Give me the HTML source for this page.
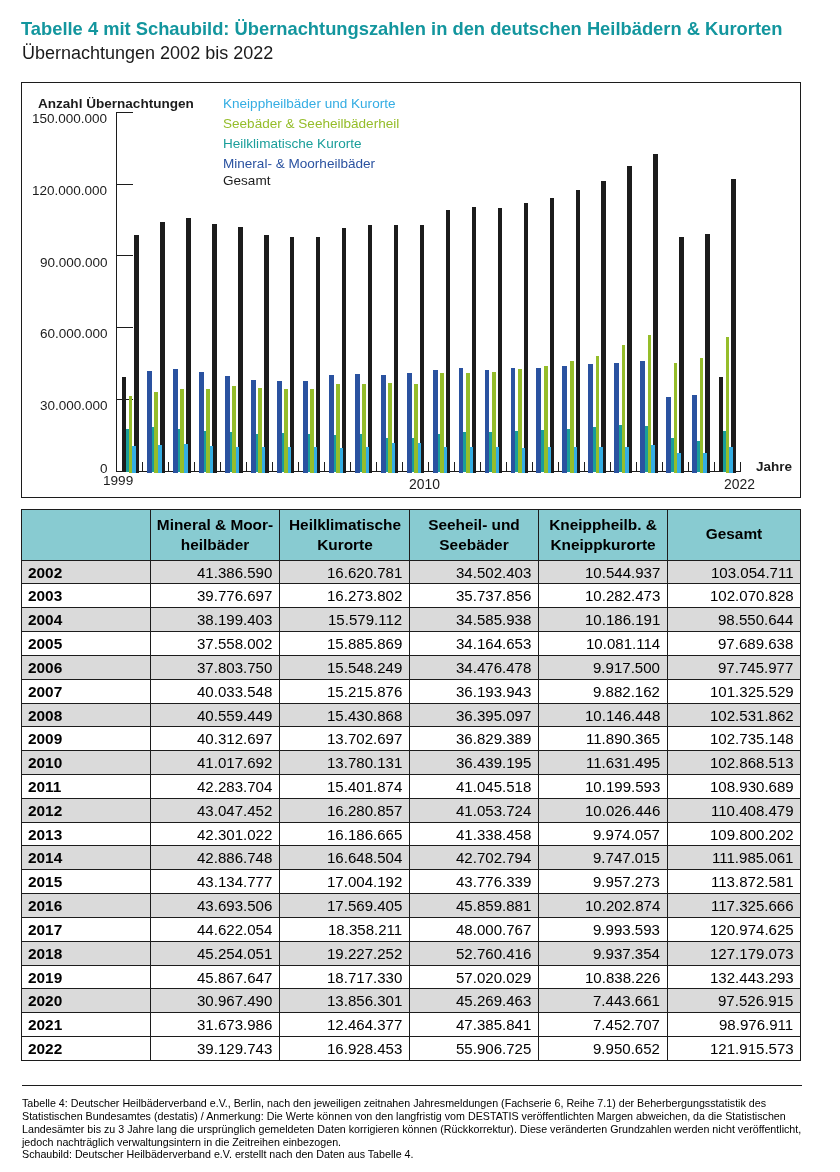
<!DOCTYPE html>
<html><head><meta charset="utf-8"><style>
html,body{margin:0;padding:0;background:#fff;width:840px;height:1172px;overflow:hidden;}
body{position:relative;font-family:"Liberation Sans", sans-serif;}
.abs{position:absolute;left:0;top:0;}
.t{position:absolute;white-space:nowrap;will-change:transform;}
</style></head><body>
<div class="abs" style="left:21px;top:509px;width:780px;height:52px;background:#88cbd1"></div><div class="abs" style="left:21px;top:560px;width:780px;height:23px;background:#dadada"></div><div class="abs" style="left:21px;top:607px;width:780px;height:24px;background:#dadada"></div><div class="abs" style="left:21px;top:655px;width:780px;height:24px;background:#dadada"></div><div class="abs" style="left:21px;top:703px;width:780px;height:23px;background:#dadada"></div><div class="abs" style="left:21px;top:750px;width:780px;height:24px;background:#dadada"></div><div class="abs" style="left:21px;top:798px;width:780px;height:24px;background:#dadada"></div><div class="abs" style="left:21px;top:845px;width:780px;height:24px;background:#dadada"></div><div class="abs" style="left:21px;top:893px;width:780px;height:24px;background:#dadada"></div><div class="abs" style="left:21px;top:941px;width:780px;height:24px;background:#dadada"></div><div class="abs" style="left:21px;top:988px;width:780px;height:24px;background:#dadada"></div><div class="abs" style="left:21px;top:509px;width:780px;height:1px;background:#1c1c1c"></div><div class="abs" style="left:21px;top:560px;width:780px;height:1px;background:#1c1c1c"></div><div class="abs" style="left:21px;top:583px;width:780px;height:1px;background:#1c1c1c"></div><div class="abs" style="left:21px;top:607px;width:780px;height:1px;background:#1c1c1c"></div><div class="abs" style="left:21px;top:631px;width:780px;height:1px;background:#1c1c1c"></div><div class="abs" style="left:21px;top:655px;width:780px;height:1px;background:#1c1c1c"></div><div class="abs" style="left:21px;top:679px;width:780px;height:1px;background:#1c1c1c"></div><div class="abs" style="left:21px;top:703px;width:780px;height:1px;background:#1c1c1c"></div><div class="abs" style="left:21px;top:726px;width:780px;height:1px;background:#1c1c1c"></div><div class="abs" style="left:21px;top:750px;width:780px;height:1px;background:#1c1c1c"></div><div class="abs" style="left:21px;top:774px;width:780px;height:1px;background:#1c1c1c"></div><div class="abs" style="left:21px;top:798px;width:780px;height:1px;background:#1c1c1c"></div><div class="abs" style="left:21px;top:822px;width:780px;height:1px;background:#1c1c1c"></div><div class="abs" style="left:21px;top:845px;width:780px;height:1px;background:#1c1c1c"></div><div class="abs" style="left:21px;top:869px;width:780px;height:1px;background:#1c1c1c"></div><div class="abs" style="left:21px;top:893px;width:780px;height:1px;background:#1c1c1c"></div><div class="abs" style="left:21px;top:917px;width:780px;height:1px;background:#1c1c1c"></div><div class="abs" style="left:21px;top:941px;width:780px;height:1px;background:#1c1c1c"></div><div class="abs" style="left:21px;top:965px;width:780px;height:1px;background:#1c1c1c"></div><div class="abs" style="left:21px;top:988px;width:780px;height:1px;background:#1c1c1c"></div><div class="abs" style="left:21px;top:1012px;width:780px;height:1px;background:#1c1c1c"></div><div class="abs" style="left:21px;top:1036px;width:780px;height:1px;background:#1c1c1c"></div><div class="abs" style="left:21px;top:1060px;width:780px;height:1px;background:#1c1c1c"></div><div class="abs" style="left:21px;top:509px;width:1px;height:552px;background:#1c1c1c"></div><div class="abs" style="left:150px;top:509px;width:1px;height:552px;background:#1c1c1c"></div><div class="abs" style="left:279px;top:509px;width:1px;height:552px;background:#1c1c1c"></div><div class="abs" style="left:409px;top:509px;width:1px;height:552px;background:#1c1c1c"></div><div class="abs" style="left:538px;top:509px;width:1px;height:552px;background:#1c1c1c"></div><div class="abs" style="left:667px;top:509px;width:1px;height:552px;background:#1c1c1c"></div><div class="abs" style="left:800px;top:509px;width:1px;height:552px;background:#1c1c1c"></div><svg class="abs" width="840" height="1172" shape-rendering="crispEdges"><rect x="21.5" y="82.5" width="779" height="415" fill="none" stroke="#1c1c1c" stroke-width="1"/><line x1="116.5" y1="111.5" x2="116.5" y2="471.5" stroke="#1c1c1c" stroke-width="1"/><line x1="116" y1="471.5" x2="741" y2="471.5" stroke="#1c1c1c" stroke-width="1"/><line x1="116" y1="399.5" x2="133" y2="399.5" stroke="#1c1c1c" stroke-width="1"/><line x1="116" y1="327.5" x2="133" y2="327.5" stroke="#1c1c1c" stroke-width="1"/><line x1="116" y1="255.5" x2="133" y2="255.5" stroke="#1c1c1c" stroke-width="1"/><line x1="116" y1="184.5" x2="133" y2="184.5" stroke="#1c1c1c" stroke-width="1"/><line x1="116" y1="112.5" x2="133" y2="112.5" stroke="#1c1c1c" stroke-width="1"/><line x1="142.5" y1="462" x2="142.5" y2="471.5" stroke="#1c1c1c" stroke-width="1"/><line x1="168.5" y1="462" x2="168.5" y2="471.5" stroke="#1c1c1c" stroke-width="1"/><line x1="194.5" y1="462" x2="194.5" y2="471.5" stroke="#1c1c1c" stroke-width="1"/><line x1="220.5" y1="462" x2="220.5" y2="471.5" stroke="#1c1c1c" stroke-width="1"/><line x1="246.5" y1="462" x2="246.5" y2="471.5" stroke="#1c1c1c" stroke-width="1"/><line x1="272.5" y1="462" x2="272.5" y2="471.5" stroke="#1c1c1c" stroke-width="1"/><line x1="298.5" y1="462" x2="298.5" y2="471.5" stroke="#1c1c1c" stroke-width="1"/><line x1="324.5" y1="462" x2="324.5" y2="471.5" stroke="#1c1c1c" stroke-width="1"/><line x1="350.5" y1="462" x2="350.5" y2="471.5" stroke="#1c1c1c" stroke-width="1"/><line x1="376.5" y1="462" x2="376.5" y2="471.5" stroke="#1c1c1c" stroke-width="1"/><line x1="402.5" y1="462" x2="402.5" y2="471.5" stroke="#1c1c1c" stroke-width="1"/><line x1="428.5" y1="462" x2="428.5" y2="471.5" stroke="#1c1c1c" stroke-width="1"/><line x1="454.5" y1="462" x2="454.5" y2="471.5" stroke="#1c1c1c" stroke-width="1"/><line x1="480.5" y1="462" x2="480.5" y2="471.5" stroke="#1c1c1c" stroke-width="1"/><line x1="506.5" y1="462" x2="506.5" y2="471.5" stroke="#1c1c1c" stroke-width="1"/><line x1="532.5" y1="462" x2="532.5" y2="471.5" stroke="#1c1c1c" stroke-width="1"/><line x1="558.5" y1="462" x2="558.5" y2="471.5" stroke="#1c1c1c" stroke-width="1"/><line x1="584.5" y1="462" x2="584.5" y2="471.5" stroke="#1c1c1c" stroke-width="1"/><line x1="610.5" y1="462" x2="610.5" y2="471.5" stroke="#1c1c1c" stroke-width="1"/><line x1="636.5" y1="462" x2="636.5" y2="471.5" stroke="#1c1c1c" stroke-width="1"/><line x1="662.5" y1="462" x2="662.5" y2="471.5" stroke="#1c1c1c" stroke-width="1"/><line x1="688.5" y1="462" x2="688.5" y2="471.5" stroke="#1c1c1c" stroke-width="1"/><line x1="714.5" y1="462" x2="714.5" y2="471.5" stroke="#1c1c1c" stroke-width="1"/><line x1="740.5" y1="462" x2="740.5" y2="471.5" stroke="#1c1c1c" stroke-width="1"/><rect x="121.90" y="377.00" width="4.10" height="95.00" fill="#1c1c1c"/><rect x="126.00" y="429.01" width="3.00" height="42.99" fill="#1a9e9a"/><rect x="128.50" y="395.93" width="3.70" height="77.07" fill="#95bd2a"/><rect x="134.20" y="235.10" width="4.50" height="237.90" fill="#1c1c1c"/><rect x="132.20" y="446.03" width="3.40" height="26.97" fill="#34ade3"/><rect x="147.06" y="371.01" width="4.90" height="101.99" fill="#2a52a0"/><rect x="151.96" y="427.10" width="3.00" height="44.90" fill="#1a9e9a"/><rect x="154.46" y="391.86" width="3.70" height="81.14" fill="#95bd2a"/><rect x="160.16" y="221.91" width="4.50" height="251.09" fill="#1c1c1c"/><rect x="158.16" y="445.07" width="3.40" height="27.93" fill="#34ade3"/><rect x="173.02" y="369.09" width="4.90" height="103.91" fill="#2a52a0"/><rect x="177.92" y="429.01" width="3.00" height="42.99" fill="#1a9e9a"/><rect x="180.42" y="388.98" width="3.70" height="84.02" fill="#95bd2a"/><rect x="186.12" y="217.84" width="4.50" height="255.16" fill="#1c1c1c"/><rect x="184.12" y="443.87" width="3.40" height="29.13" fill="#34ade3"/><rect x="198.98" y="372.00" width="4.90" height="101.00" fill="#2a52a0"/><rect x="203.88" y="431.36" width="3.00" height="40.64" fill="#1a9e9a"/><rect x="206.38" y="388.50" width="3.70" height="84.50" fill="#95bd2a"/><rect x="212.08" y="224.18" width="4.50" height="248.82" fill="#1c1c1c"/><rect x="210.08" y="445.92" width="3.40" height="27.08" fill="#34ade3"/><rect x="224.94" y="375.86" width="4.90" height="97.14" fill="#2a52a0"/><rect x="229.84" y="432.19" width="3.00" height="39.81" fill="#1a9e9a"/><rect x="232.34" y="385.54" width="3.70" height="87.46" fill="#95bd2a"/><rect x="238.04" y="226.54" width="4.50" height="246.46" fill="#1c1c1c"/><rect x="236.04" y="446.55" width="3.40" height="26.45" fill="#34ade3"/><rect x="250.90" y="379.64" width="4.90" height="93.36" fill="#2a52a0"/><rect x="255.80" y="433.86" width="3.00" height="38.14" fill="#1a9e9a"/><rect x="258.30" y="388.30" width="3.70" height="84.70" fill="#95bd2a"/><rect x="264.00" y="234.97" width="4.50" height="238.03" fill="#1c1c1c"/><rect x="262.00" y="446.78" width="3.40" height="26.22" fill="#34ade3"/><rect x="276.86" y="381.17" width="4.90" height="91.83" fill="#2a52a0"/><rect x="281.76" y="433.12" width="3.00" height="38.88" fill="#1a9e9a"/><rect x="284.26" y="389.31" width="3.70" height="83.69" fill="#95bd2a"/><rect x="289.96" y="237.04" width="4.50" height="235.96" fill="#1c1c1c"/><rect x="287.96" y="447.04" width="3.40" height="25.96" fill="#34ade3"/><rect x="302.82" y="380.58" width="4.90" height="92.42" fill="#2a52a0"/><rect x="307.72" y="433.93" width="3.00" height="38.07" fill="#1a9e9a"/><rect x="310.22" y="388.56" width="3.70" height="84.44" fill="#95bd2a"/><rect x="315.92" y="236.90" width="4.50" height="236.10" fill="#1c1c1c"/><rect x="313.92" y="447.43" width="3.40" height="25.57" fill="#34ade3"/><rect x="328.78" y="375.24" width="4.90" height="97.76" fill="#2a52a0"/><rect x="333.68" y="434.73" width="3.00" height="37.27" fill="#1a9e9a"/><rect x="336.18" y="384.44" width="3.70" height="88.56" fill="#95bd2a"/><rect x="341.88" y="228.32" width="4.50" height="244.68" fill="#1c1c1c"/><rect x="339.88" y="447.51" width="3.40" height="25.49" fill="#34ade3"/><rect x="354.74" y="373.98" width="4.90" height="99.02" fill="#2a52a0"/><rect x="359.64" y="434.21" width="3.00" height="37.79" fill="#1a9e9a"/><rect x="362.14" y="383.96" width="3.70" height="89.04" fill="#95bd2a"/><rect x="367.84" y="225.43" width="4.50" height="247.57" fill="#1c1c1c"/><rect x="365.84" y="446.88" width="3.40" height="26.12" fill="#34ade3"/><rect x="380.70" y="374.57" width="4.90" height="98.43" fill="#2a52a0"/><rect x="385.60" y="438.35" width="3.00" height="33.65" fill="#1a9e9a"/><rect x="388.10" y="382.92" width="3.70" height="90.08" fill="#95bd2a"/><rect x="393.80" y="224.94" width="4.50" height="248.06" fill="#1c1c1c"/><rect x="391.80" y="442.70" width="3.40" height="30.30" fill="#34ade3"/><rect x="406.66" y="372.88" width="4.90" height="100.12" fill="#2a52a0"/><rect x="411.56" y="438.17" width="3.00" height="33.83" fill="#1a9e9a"/><rect x="414.06" y="383.86" width="3.70" height="89.14" fill="#95bd2a"/><rect x="419.76" y="224.62" width="4.50" height="248.38" fill="#1c1c1c"/><rect x="417.76" y="443.32" width="3.40" height="29.68" fill="#34ade3"/><rect x="432.62" y="369.85" width="4.90" height="103.15" fill="#2a52a0"/><rect x="437.52" y="434.28" width="3.00" height="37.72" fill="#1a9e9a"/><rect x="440.02" y="372.81" width="3.70" height="100.19" fill="#95bd2a"/><rect x="445.72" y="210.09" width="4.50" height="262.91" fill="#1c1c1c"/><rect x="443.72" y="446.75" width="3.40" height="26.25" fill="#34ade3"/><rect x="458.58" y="368.02" width="4.90" height="104.98" fill="#2a52a0"/><rect x="463.48" y="432.17" width="3.00" height="39.83" fill="#1a9e9a"/><rect x="465.98" y="372.79" width="3.70" height="100.21" fill="#95bd2a"/><rect x="471.68" y="206.55" width="4.50" height="266.45" fill="#1c1c1c"/><rect x="469.68" y="447.17" width="3.40" height="25.83" fill="#34ade3"/><rect x="484.54" y="369.80" width="4.90" height="103.20" fill="#2a52a0"/><rect x="489.44" y="432.40" width="3.00" height="39.60" fill="#1a9e9a"/><rect x="491.94" y="372.11" width="3.70" height="100.89" fill="#95bd2a"/><rect x="497.64" y="208.01" width="4.50" height="264.99" fill="#1c1c1c"/><rect x="495.64" y="447.29" width="3.40" height="25.71" fill="#34ade3"/><rect x="510.50" y="368.40" width="4.90" height="104.60" fill="#2a52a0"/><rect x="515.40" y="431.29" width="3.00" height="40.71" fill="#1a9e9a"/><rect x="517.90" y="368.84" width="3.70" height="104.16" fill="#95bd2a"/><rect x="523.60" y="202.77" width="4.50" height="270.23" fill="#1c1c1c"/><rect x="521.60" y="447.84" width="3.40" height="25.16" fill="#34ade3"/><rect x="536.46" y="367.81" width="4.90" height="105.19" fill="#2a52a0"/><rect x="541.36" y="430.44" width="3.00" height="41.56" fill="#1a9e9a"/><rect x="543.86" y="366.27" width="3.70" height="106.73" fill="#95bd2a"/><rect x="549.56" y="198.25" width="4.50" height="274.75" fill="#1c1c1c"/><rect x="547.56" y="447.33" width="3.40" height="25.67" fill="#34ade3"/><rect x="562.42" y="366.47" width="4.90" height="106.53" fill="#2a52a0"/><rect x="567.32" y="429.09" width="3.00" height="42.91" fill="#1a9e9a"/><rect x="569.82" y="361.27" width="3.70" height="111.73" fill="#95bd2a"/><rect x="575.52" y="189.97" width="4.50" height="283.03" fill="#1c1c1c"/><rect x="573.52" y="446.74" width="3.40" height="26.26" fill="#34ade3"/><rect x="588.38" y="364.24" width="4.90" height="108.76" fill="#2a52a0"/><rect x="593.28" y="427.20" width="3.00" height="44.80" fill="#1a9e9a"/><rect x="595.78" y="356.14" width="3.70" height="116.86" fill="#95bd2a"/><rect x="601.48" y="181.22" width="4.50" height="291.78" fill="#1c1c1c"/><rect x="599.48" y="447.25" width="3.40" height="25.75" fill="#34ade3"/><rect x="614.34" y="362.73" width="4.90" height="110.27" fill="#2a52a0"/><rect x="619.24" y="425.11" width="3.00" height="46.89" fill="#1a9e9a"/><rect x="621.74" y="344.73" width="3.70" height="128.27" fill="#95bd2a"/><rect x="627.44" y="166.35" width="4.50" height="306.65" fill="#1c1c1c"/><rect x="625.44" y="447.38" width="3.40" height="25.62" fill="#34ade3"/><rect x="640.30" y="361.26" width="4.90" height="111.74" fill="#2a52a0"/><rect x="645.20" y="426.33" width="3.00" height="45.67" fill="#1a9e9a"/><rect x="647.70" y="334.52" width="3.70" height="138.48" fill="#95bd2a"/><rect x="653.40" y="153.73" width="4.50" height="319.27" fill="#1c1c1c"/><rect x="651.40" y="445.22" width="3.40" height="27.78" fill="#34ade3"/><rect x="666.26" y="396.97" width="4.90" height="76.03" fill="#2a52a0"/><rect x="671.16" y="437.99" width="3.00" height="34.01" fill="#1a9e9a"/><rect x="673.66" y="362.69" width="3.70" height="110.31" fill="#95bd2a"/><rect x="679.36" y="237.43" width="4.50" height="235.57" fill="#1c1c1c"/><rect x="677.36" y="453.36" width="3.40" height="19.64" fill="#34ade3"/><rect x="692.22" y="395.28" width="4.90" height="77.72" fill="#2a52a0"/><rect x="697.12" y="441.32" width="3.00" height="30.68" fill="#1a9e9a"/><rect x="699.62" y="357.62" width="3.70" height="115.38" fill="#95bd2a"/><rect x="705.32" y="233.95" width="4.50" height="239.05" fill="#1c1c1c"/><rect x="703.32" y="453.34" width="3.40" height="19.66" fill="#34ade3"/><rect x="718.98" y="377.41" width="4.10" height="94.59" fill="#1c1c1c"/><rect x="723.08" y="430.62" width="3.00" height="41.38" fill="#1a9e9a"/><rect x="725.58" y="337.19" width="3.70" height="135.81" fill="#95bd2a"/><rect x="731.28" y="178.97" width="4.50" height="294.03" fill="#1c1c1c"/><rect x="729.28" y="447.35" width="3.40" height="25.65" fill="#34ade3"/></svg><div class="t" style="left:21.30px;top:18.34px;font-size:18.34px;line-height:22.01px;color:#13969e;font-weight:bold;">Tabelle 4 mit Schaubild: Übernachtungszahlen in den deutschen Heilbädern &amp; Kurorten</div><div class="t" style="left:21.60px;top:43.16px;font-size:18.0px;line-height:21.6px;color:#1a1a1a;">Übernachtungen 2002 bis 2022</div><div class="t" style="left:37.87px;top:95.77px;font-size:13.55px;line-height:16.26px;color:#1c1c1c;font-weight:bold;">Anzahl Übernachtungen</div><div class="t" style="right:732.70px;top:460.72px;font-size:13.5px;line-height:16.2px;color:#1c1c1c;text-align:right;">0</div><div class="t" style="right:732.70px;top:398.32px;font-size:13.5px;line-height:16.2px;color:#1c1c1c;text-align:right;">30.000.000</div><div class="t" style="right:732.70px;top:326.42px;font-size:13.5px;line-height:16.2px;color:#1c1c1c;text-align:right;">60.000.000</div><div class="t" style="right:732.70px;top:254.52px;font-size:13.5px;line-height:16.2px;color:#1c1c1c;text-align:right;">90.000.000</div><div class="t" style="right:732.70px;top:182.62px;font-size:13.5px;line-height:16.2px;color:#1c1c1c;text-align:right;">120.000.000</div><div class="t" style="right:732.70px;top:110.72px;font-size:13.5px;line-height:16.2px;color:#1c1c1c;text-align:right;">150.000.000</div><div class="t" style="left:223.22px;top:96.47px;font-size:13.55px;line-height:16.26px;color:#34ade3;">Kneippheilbäder und Kurorte</div><div class="t" style="left:223.22px;top:116.27px;font-size:13.55px;line-height:16.26px;color:#95bd2a;">Seebäder &amp; Seeheilbäderheil</div><div class="t" style="left:223.22px;top:136.07px;font-size:13.55px;line-height:16.26px;color:#1a9e9a;">Heilklimatische Kurorte</div><div class="t" style="left:223.22px;top:156.27px;font-size:13.55px;line-height:16.26px;color:#2a52a0;">Mineral- &amp; Moorheilbäder</div><div class="t" style="left:223.22px;top:172.97px;font-size:13.55px;line-height:16.26px;color:#1c1c1c;">Gesamt</div><div class="t" style="left:103.27px;top:472.73px;font-size:13.6px;line-height:16.32px;color:#1c1c1c;">1999</div><div class="t" style="left:409.11px;top:476.24px;font-size:13.9px;line-height:16.68px;color:#1c1c1c;">2010</div><div class="t" style="left:724.30px;top:476.24px;font-size:13.9px;line-height:16.68px;color:#1c1c1c;">2022</div><div class="t" style="left:756.00px;top:459.32px;font-size:13.5px;line-height:16.2px;color:#1c1c1c;font-weight:bold;">Jahre</div><div class="t" style="left:151.00px;width:128.00px;top:515.72px;font-size:15.4px;line-height:18.48px;color:#000;text-align:center;font-weight:bold;">Mineral &amp; Moor-</div><div class="t" style="left:151.00px;width:128.00px;top:536.32px;font-size:15.4px;line-height:18.48px;color:#000;text-align:center;font-weight:bold;">heilbäder</div><div class="t" style="left:280.50px;width:128.00px;top:515.72px;font-size:15.4px;line-height:18.48px;color:#000;text-align:center;font-weight:bold;">Heilklimatische</div><div class="t" style="left:280.50px;width:128.00px;top:536.32px;font-size:15.4px;line-height:18.48px;color:#000;text-align:center;font-weight:bold;">Kurorte</div><div class="t" style="left:410.00px;width:128.00px;top:515.72px;font-size:15.4px;line-height:18.48px;color:#000;text-align:center;font-weight:bold;">Seeheil- und</div><div class="t" style="left:410.00px;width:128.00px;top:536.32px;font-size:15.4px;line-height:18.48px;color:#000;text-align:center;font-weight:bold;">Seebäder</div><div class="t" style="left:539.00px;width:128.00px;top:515.72px;font-size:15.4px;line-height:18.48px;color:#000;text-align:center;font-weight:bold;">Kneippheilb. &amp;</div><div class="t" style="left:539.00px;width:128.00px;top:536.32px;font-size:15.4px;line-height:18.48px;color:#000;text-align:center;font-weight:bold;">Kneippkurorte</div><div class="t" style="left:670.00px;width:128.00px;top:525.32px;font-size:15.4px;line-height:18.48px;color:#000;text-align:center;font-weight:bold;">Gesamt</div><div class="t" style="left:27.88px;top:563.62px;font-size:15.4px;line-height:18.48px;color:#000;font-weight:bold;">2002</div><div class="t" style="right:567.80px;top:563.96px;font-size:15.05px;line-height:18.06px;color:#000;text-align:right;">41.386.590</div><div class="t" style="right:437.80px;top:563.96px;font-size:15.05px;line-height:18.06px;color:#000;text-align:right;">16.620.781</div><div class="t" style="right:308.80px;top:563.96px;font-size:15.05px;line-height:18.06px;color:#000;text-align:right;">34.502.403</div><div class="t" style="right:179.80px;top:563.96px;font-size:15.05px;line-height:18.06px;color:#000;text-align:right;">10.544.937</div><div class="t" style="right:46.80px;top:563.96px;font-size:15.05px;line-height:18.06px;color:#000;text-align:right;">103.054.711</div><div class="t" style="left:27.88px;top:586.62px;font-size:15.4px;line-height:18.48px;color:#000;font-weight:bold;">2003</div><div class="t" style="right:567.80px;top:586.96px;font-size:15.05px;line-height:18.06px;color:#000;text-align:right;">39.776.697</div><div class="t" style="right:437.80px;top:586.96px;font-size:15.05px;line-height:18.06px;color:#000;text-align:right;">16.273.802</div><div class="t" style="right:308.80px;top:586.96px;font-size:15.05px;line-height:18.06px;color:#000;text-align:right;">35.737.856</div><div class="t" style="right:179.80px;top:586.96px;font-size:15.05px;line-height:18.06px;color:#000;text-align:right;">10.282.473</div><div class="t" style="right:46.80px;top:586.96px;font-size:15.05px;line-height:18.06px;color:#000;text-align:right;">102.070.828</div><div class="t" style="left:27.88px;top:610.62px;font-size:15.4px;line-height:18.48px;color:#000;font-weight:bold;">2004</div><div class="t" style="right:567.80px;top:610.96px;font-size:15.05px;line-height:18.06px;color:#000;text-align:right;">38.199.403</div><div class="t" style="right:437.80px;top:610.96px;font-size:15.05px;line-height:18.06px;color:#000;text-align:right;">15.579.112</div><div class="t" style="right:308.80px;top:610.96px;font-size:15.05px;line-height:18.06px;color:#000;text-align:right;">34.585.938</div><div class="t" style="right:179.80px;top:610.96px;font-size:15.05px;line-height:18.06px;color:#000;text-align:right;">10.186.191</div><div class="t" style="right:46.80px;top:610.96px;font-size:15.05px;line-height:18.06px;color:#000;text-align:right;">98.550.644</div><div class="t" style="left:27.88px;top:634.62px;font-size:15.4px;line-height:18.48px;color:#000;font-weight:bold;">2005</div><div class="t" style="right:567.80px;top:634.96px;font-size:15.05px;line-height:18.06px;color:#000;text-align:right;">37.558.002</div><div class="t" style="right:437.80px;top:634.96px;font-size:15.05px;line-height:18.06px;color:#000;text-align:right;">15.885.869</div><div class="t" style="right:308.80px;top:634.96px;font-size:15.05px;line-height:18.06px;color:#000;text-align:right;">34.164.653</div><div class="t" style="right:179.80px;top:634.96px;font-size:15.05px;line-height:18.06px;color:#000;text-align:right;">10.081.114</div><div class="t" style="right:46.80px;top:634.96px;font-size:15.05px;line-height:18.06px;color:#000;text-align:right;">97.689.638</div><div class="t" style="left:27.88px;top:658.62px;font-size:15.4px;line-height:18.48px;color:#000;font-weight:bold;">2006</div><div class="t" style="right:567.80px;top:658.96px;font-size:15.05px;line-height:18.06px;color:#000;text-align:right;">37.803.750</div><div class="t" style="right:437.80px;top:658.96px;font-size:15.05px;line-height:18.06px;color:#000;text-align:right;">15.548.249</div><div class="t" style="right:308.80px;top:658.96px;font-size:15.05px;line-height:18.06px;color:#000;text-align:right;">34.476.478</div><div class="t" style="right:179.80px;top:658.96px;font-size:15.05px;line-height:18.06px;color:#000;text-align:right;">9.917.500</div><div class="t" style="right:46.80px;top:658.96px;font-size:15.05px;line-height:18.06px;color:#000;text-align:right;">97.745.977</div><div class="t" style="left:27.88px;top:682.62px;font-size:15.4px;line-height:18.48px;color:#000;font-weight:bold;">2007</div><div class="t" style="right:567.80px;top:682.96px;font-size:15.05px;line-height:18.06px;color:#000;text-align:right;">40.033.548</div><div class="t" style="right:437.80px;top:682.96px;font-size:15.05px;line-height:18.06px;color:#000;text-align:right;">15.215.876</div><div class="t" style="right:308.80px;top:682.96px;font-size:15.05px;line-height:18.06px;color:#000;text-align:right;">36.193.943</div><div class="t" style="right:179.80px;top:682.96px;font-size:15.05px;line-height:18.06px;color:#000;text-align:right;">9.882.162</div><div class="t" style="right:46.80px;top:682.96px;font-size:15.05px;line-height:18.06px;color:#000;text-align:right;">101.325.529</div><div class="t" style="left:27.88px;top:706.62px;font-size:15.4px;line-height:18.48px;color:#000;font-weight:bold;">2008</div><div class="t" style="right:567.80px;top:706.96px;font-size:15.05px;line-height:18.06px;color:#000;text-align:right;">40.559.449</div><div class="t" style="right:437.80px;top:706.96px;font-size:15.05px;line-height:18.06px;color:#000;text-align:right;">15.430.868</div><div class="t" style="right:308.80px;top:706.96px;font-size:15.05px;line-height:18.06px;color:#000;text-align:right;">36.395.097</div><div class="t" style="right:179.80px;top:706.96px;font-size:15.05px;line-height:18.06px;color:#000;text-align:right;">10.146.448</div><div class="t" style="right:46.80px;top:706.96px;font-size:15.05px;line-height:18.06px;color:#000;text-align:right;">102.531.862</div><div class="t" style="left:27.88px;top:729.62px;font-size:15.4px;line-height:18.48px;color:#000;font-weight:bold;">2009</div><div class="t" style="right:567.80px;top:729.96px;font-size:15.05px;line-height:18.06px;color:#000;text-align:right;">40.312.697</div><div class="t" style="right:437.80px;top:729.96px;font-size:15.05px;line-height:18.06px;color:#000;text-align:right;">13.702.697</div><div class="t" style="right:308.80px;top:729.96px;font-size:15.05px;line-height:18.06px;color:#000;text-align:right;">36.829.389</div><div class="t" style="right:179.80px;top:729.96px;font-size:15.05px;line-height:18.06px;color:#000;text-align:right;">11.890.365</div><div class="t" style="right:46.80px;top:729.96px;font-size:15.05px;line-height:18.06px;color:#000;text-align:right;">102.735.148</div><div class="t" style="left:27.88px;top:753.62px;font-size:15.4px;line-height:18.48px;color:#000;font-weight:bold;">2010</div><div class="t" style="right:567.80px;top:753.96px;font-size:15.05px;line-height:18.06px;color:#000;text-align:right;">41.017.692</div><div class="t" style="right:437.80px;top:753.96px;font-size:15.05px;line-height:18.06px;color:#000;text-align:right;">13.780.131</div><div class="t" style="right:308.80px;top:753.96px;font-size:15.05px;line-height:18.06px;color:#000;text-align:right;">36.439.195</div><div class="t" style="right:179.80px;top:753.96px;font-size:15.05px;line-height:18.06px;color:#000;text-align:right;">11.631.495</div><div class="t" style="right:46.80px;top:753.96px;font-size:15.05px;line-height:18.06px;color:#000;text-align:right;">102.868.513</div><div class="t" style="left:27.88px;top:777.62px;font-size:15.4px;line-height:18.48px;color:#000;font-weight:bold;">2011</div><div class="t" style="right:567.80px;top:777.96px;font-size:15.05px;line-height:18.06px;color:#000;text-align:right;">42.283.704</div><div class="t" style="right:437.80px;top:777.96px;font-size:15.05px;line-height:18.06px;color:#000;text-align:right;">15.401.874</div><div class="t" style="right:308.80px;top:777.96px;font-size:15.05px;line-height:18.06px;color:#000;text-align:right;">41.045.518</div><div class="t" style="right:179.80px;top:777.96px;font-size:15.05px;line-height:18.06px;color:#000;text-align:right;">10.199.593</div><div class="t" style="right:46.80px;top:777.96px;font-size:15.05px;line-height:18.06px;color:#000;text-align:right;">108.930.689</div><div class="t" style="left:27.88px;top:801.62px;font-size:15.4px;line-height:18.48px;color:#000;font-weight:bold;">2012</div><div class="t" style="right:567.80px;top:801.96px;font-size:15.05px;line-height:18.06px;color:#000;text-align:right;">43.047.452</div><div class="t" style="right:437.80px;top:801.96px;font-size:15.05px;line-height:18.06px;color:#000;text-align:right;">16.280.857</div><div class="t" style="right:308.80px;top:801.96px;font-size:15.05px;line-height:18.06px;color:#000;text-align:right;">41.053.724</div><div class="t" style="right:179.80px;top:801.96px;font-size:15.05px;line-height:18.06px;color:#000;text-align:right;">10.026.446</div><div class="t" style="right:46.80px;top:801.96px;font-size:15.05px;line-height:18.06px;color:#000;text-align:right;">110.408.479</div><div class="t" style="left:27.88px;top:825.62px;font-size:15.4px;line-height:18.48px;color:#000;font-weight:bold;">2013</div><div class="t" style="right:567.80px;top:825.96px;font-size:15.05px;line-height:18.06px;color:#000;text-align:right;">42.301.022</div><div class="t" style="right:437.80px;top:825.96px;font-size:15.05px;line-height:18.06px;color:#000;text-align:right;">16.186.665</div><div class="t" style="right:308.80px;top:825.96px;font-size:15.05px;line-height:18.06px;color:#000;text-align:right;">41.338.458</div><div class="t" style="right:179.80px;top:825.96px;font-size:15.05px;line-height:18.06px;color:#000;text-align:right;">9.974.057</div><div class="t" style="right:46.80px;top:825.96px;font-size:15.05px;line-height:18.06px;color:#000;text-align:right;">109.800.202</div><div class="t" style="left:27.88px;top:848.62px;font-size:15.4px;line-height:18.48px;color:#000;font-weight:bold;">2014</div><div class="t" style="right:567.80px;top:848.96px;font-size:15.05px;line-height:18.06px;color:#000;text-align:right;">42.886.748</div><div class="t" style="right:437.80px;top:848.96px;font-size:15.05px;line-height:18.06px;color:#000;text-align:right;">16.648.504</div><div class="t" style="right:308.80px;top:848.96px;font-size:15.05px;line-height:18.06px;color:#000;text-align:right;">42.702.794</div><div class="t" style="right:179.80px;top:848.96px;font-size:15.05px;line-height:18.06px;color:#000;text-align:right;">9.747.015</div><div class="t" style="right:46.80px;top:848.96px;font-size:15.05px;line-height:18.06px;color:#000;text-align:right;">111.985.061</div><div class="t" style="left:27.88px;top:872.62px;font-size:15.4px;line-height:18.48px;color:#000;font-weight:bold;">2015</div><div class="t" style="right:567.80px;top:872.96px;font-size:15.05px;line-height:18.06px;color:#000;text-align:right;">43.134.777</div><div class="t" style="right:437.80px;top:872.96px;font-size:15.05px;line-height:18.06px;color:#000;text-align:right;">17.004.192</div><div class="t" style="right:308.80px;top:872.96px;font-size:15.05px;line-height:18.06px;color:#000;text-align:right;">43.776.339</div><div class="t" style="right:179.80px;top:872.96px;font-size:15.05px;line-height:18.06px;color:#000;text-align:right;">9.957.273</div><div class="t" style="right:46.80px;top:872.96px;font-size:15.05px;line-height:18.06px;color:#000;text-align:right;">113.872.581</div><div class="t" style="left:27.88px;top:896.62px;font-size:15.4px;line-height:18.48px;color:#000;font-weight:bold;">2016</div><div class="t" style="right:567.80px;top:896.96px;font-size:15.05px;line-height:18.06px;color:#000;text-align:right;">43.693.506</div><div class="t" style="right:437.80px;top:896.96px;font-size:15.05px;line-height:18.06px;color:#000;text-align:right;">17.569.405</div><div class="t" style="right:308.80px;top:896.96px;font-size:15.05px;line-height:18.06px;color:#000;text-align:right;">45.859.881</div><div class="t" style="right:179.80px;top:896.96px;font-size:15.05px;line-height:18.06px;color:#000;text-align:right;">10.202.874</div><div class="t" style="right:46.80px;top:896.96px;font-size:15.05px;line-height:18.06px;color:#000;text-align:right;">117.325.666</div><div class="t" style="left:27.88px;top:920.62px;font-size:15.4px;line-height:18.48px;color:#000;font-weight:bold;">2017</div><div class="t" style="right:567.80px;top:920.96px;font-size:15.05px;line-height:18.06px;color:#000;text-align:right;">44.622.054</div><div class="t" style="right:437.80px;top:920.96px;font-size:15.05px;line-height:18.06px;color:#000;text-align:right;">18.358.211</div><div class="t" style="right:308.80px;top:920.96px;font-size:15.05px;line-height:18.06px;color:#000;text-align:right;">48.000.767</div><div class="t" style="right:179.80px;top:920.96px;font-size:15.05px;line-height:18.06px;color:#000;text-align:right;">9.993.593</div><div class="t" style="right:46.80px;top:920.96px;font-size:15.05px;line-height:18.06px;color:#000;text-align:right;">120.974.625</div><div class="t" style="left:27.88px;top:944.62px;font-size:15.4px;line-height:18.48px;color:#000;font-weight:bold;">2018</div><div class="t" style="right:567.80px;top:944.96px;font-size:15.05px;line-height:18.06px;color:#000;text-align:right;">45.254.051</div><div class="t" style="right:437.80px;top:944.96px;font-size:15.05px;line-height:18.06px;color:#000;text-align:right;">19.227.252</div><div class="t" style="right:308.80px;top:944.96px;font-size:15.05px;line-height:18.06px;color:#000;text-align:right;">52.760.416</div><div class="t" style="right:179.80px;top:944.96px;font-size:15.05px;line-height:18.06px;color:#000;text-align:right;">9.937.354</div><div class="t" style="right:46.80px;top:944.96px;font-size:15.05px;line-height:18.06px;color:#000;text-align:right;">127.179.073</div><div class="t" style="left:27.88px;top:968.62px;font-size:15.4px;line-height:18.48px;color:#000;font-weight:bold;">2019</div><div class="t" style="right:567.80px;top:968.96px;font-size:15.05px;line-height:18.06px;color:#000;text-align:right;">45.867.647</div><div class="t" style="right:437.80px;top:968.96px;font-size:15.05px;line-height:18.06px;color:#000;text-align:right;">18.717.330</div><div class="t" style="right:308.80px;top:968.96px;font-size:15.05px;line-height:18.06px;color:#000;text-align:right;">57.020.029</div><div class="t" style="right:179.80px;top:968.96px;font-size:15.05px;line-height:18.06px;color:#000;text-align:right;">10.838.226</div><div class="t" style="right:46.80px;top:968.96px;font-size:15.05px;line-height:18.06px;color:#000;text-align:right;">132.443.293</div><div class="t" style="left:27.88px;top:991.62px;font-size:15.4px;line-height:18.48px;color:#000;font-weight:bold;">2020</div><div class="t" style="right:567.80px;top:991.96px;font-size:15.05px;line-height:18.06px;color:#000;text-align:right;">30.967.490</div><div class="t" style="right:437.80px;top:991.96px;font-size:15.05px;line-height:18.06px;color:#000;text-align:right;">13.856.301</div><div class="t" style="right:308.80px;top:991.96px;font-size:15.05px;line-height:18.06px;color:#000;text-align:right;">45.269.463</div><div class="t" style="right:179.80px;top:991.96px;font-size:15.05px;line-height:18.06px;color:#000;text-align:right;">7.443.661</div><div class="t" style="right:46.80px;top:991.96px;font-size:15.05px;line-height:18.06px;color:#000;text-align:right;">97.526.915</div><div class="t" style="left:27.88px;top:1015.62px;font-size:15.4px;line-height:18.48px;color:#000;font-weight:bold;">2021</div><div class="t" style="right:567.80px;top:1015.96px;font-size:15.05px;line-height:18.06px;color:#000;text-align:right;">31.673.986</div><div class="t" style="right:437.80px;top:1015.96px;font-size:15.05px;line-height:18.06px;color:#000;text-align:right;">12.464.377</div><div class="t" style="right:308.80px;top:1015.96px;font-size:15.05px;line-height:18.06px;color:#000;text-align:right;">47.385.841</div><div class="t" style="right:179.80px;top:1015.96px;font-size:15.05px;line-height:18.06px;color:#000;text-align:right;">7.452.707</div><div class="t" style="right:46.80px;top:1015.96px;font-size:15.05px;line-height:18.06px;color:#000;text-align:right;">98.976.911</div><div class="t" style="left:27.88px;top:1039.62px;font-size:15.4px;line-height:18.48px;color:#000;font-weight:bold;">2022</div><div class="t" style="right:567.80px;top:1039.96px;font-size:15.05px;line-height:18.06px;color:#000;text-align:right;">39.129.743</div><div class="t" style="right:437.80px;top:1039.96px;font-size:15.05px;line-height:18.06px;color:#000;text-align:right;">16.928.453</div><div class="t" style="right:308.80px;top:1039.96px;font-size:15.05px;line-height:18.06px;color:#000;text-align:right;">55.906.725</div><div class="t" style="right:179.80px;top:1039.96px;font-size:15.05px;line-height:18.06px;color:#000;text-align:right;">9.950.652</div><div class="t" style="right:46.80px;top:1039.96px;font-size:15.05px;line-height:18.06px;color:#000;text-align:right;">121.915.573</div><div class="abs" style="left:22px;top:1085px;width:780px;height:1px;background:#1c1c1c"></div><div class="t" style="left:21.76px;top:1096.67px;font-size:10.7px;line-height:12.84px;color:#000;">Tabelle 4: Deutscher Heilbäderverband e.V., Berlin, nach den jeweiligen zeitnahen Jahresmeldungen (Fachserie 6, Reihe 7.1) der Beherbergungsstatistik des</div><div class="t" style="left:21.76px;top:1110.17px;font-size:10.7px;line-height:12.84px;color:#000;">Statistischen Bundesamtes (destatis) / Anmerkung: Die Werte können von den langfristig vom DESTATIS veröffentlichten Margen abweichen, da die Statistischen</div><div class="t" style="left:21.76px;top:1123.17px;font-size:10.7px;line-height:12.84px;color:#000;">Landesämter bis zu 3 Jahre lang die ursprünglich gemeldeten Daten korrigieren können (Rückkorrektur). Diese veränderten Grundzahlen werden nicht veröffentlicht,</div><div class="t" style="left:21.76px;top:1136.07px;font-size:10.7px;line-height:12.84px;color:#000;">jedoch nachträglich verwaltungsintern in die Zeitreihen einbezogen.</div><div class="t" style="left:21.76px;top:1147.67px;font-size:10.7px;line-height:12.84px;color:#000;">Schaubild: Deutscher Heilbäderverband e.V. erstellt nach den Daten aus Tabelle 4.</div>
</body></html>
